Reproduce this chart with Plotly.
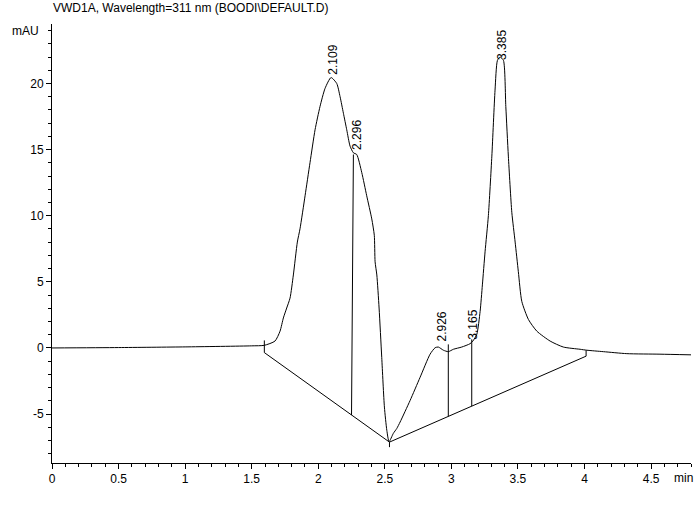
import plotly.graph_objects as go

# ---- data ----
time_min = [0.0, 0.5, 1.0, 1.5, 1.595, 1.675, 1.713, 1.738, 1.763, 1.788, 1.813, 1.843,
            1.863, 1.901, 1.938, 1.976, 2.013, 2.051, 2.096, 2.139, 2.164, 2.189, 2.214,
            2.239, 2.264, 2.289, 2.327, 2.364, 2.402, 2.421, 2.427, 2.440, 2.457, 2.477,
            2.497, 2.515, 2.532, 2.564, 2.590, 2.615, 2.690, 2.765, 2.840, 2.878, 2.902,
            2.940, 2.977, 3.015, 3.078, 3.140, 3.161, 3.191, 3.216, 3.233, 3.253, 3.278,
            3.304, 3.328, 3.346, 3.366, 3.391, 3.409, 3.428, 3.454, 3.479, 3.503, 3.529,
            3.579, 3.642, 3.742, 3.841, 3.967, 4.017, 4.142, 4.318, 4.567, 4.80]
signal_mau = [0.0, 0.03, 0.08, 0.16, 0.20, 0.52, 1.27, 2.27, 3.02, 3.77, 5.52, 8.01,
              9.01, 11.51, 14.01, 16.50, 18.25, 19.63, 20.45, 20.0, 19.0, 17.75, 16.50,
              15.26, 14.76, 14.63, 13.26, 11.51, 9.76, 8.52, 6.52, 5.52, 3.02, -0.73,
              -4.47, -6.22, -7.09, -6.46, -6.09, -5.60, -3.97, -2.22, -0.47, 0.02, 0.07,
              -0.17, -0.28, -0.10, 0.07, 0.32, 0.52, 1.03, 2.77, 4.77, 7.27, 10.01,
              14.51, 19.50, 21.75, 22.0, 21.75, 18.25, 14.51, 10.26, 8.01, 5.77, 3.52,
              2.15, 1.27, 0.52, 0.07, -0.10, -0.17, -0.28, -0.43, -0.47, -0.52]

# integration baseline (start, valley, end)
baseline_t = [1.595, 2.535, 4.012]
baseline_y = [-0.35, -7.12, -0.62]

# drop lines / baseline markers: (t_bottom, y_bottom, t_top, y_top)
drop_t0 = [1.595, 2.250, 2.535, 2.977, 3.153, 4.012]
drop_y0 = [-0.35, -5.07, -7.50, -5.17, -4.40, -0.62]
drop_t1 = [1.595, 2.264, 2.535, 2.977, 3.153, 4.012]
drop_y1 = [0.57, 14.63, -7.12, 0.27, 0.65, -0.17]

# peak retention time labels
peak_labels = ["2.109", "2.296", "2.926", "3.165", "3.385"]
peak_rt = [2.109, 2.296, 2.926, 3.165, 3.385]
peak_height = [20.5, 14.8, 0.3, 0.5, 21.6]

x_ticks = [0, 0.5, 1, 1.5, 2, 2.5, 3, 3.5, 4, 4.5]
x_ticktext = ["0", "0.5", "1", "1.5", "2", "2.5", "3", "3.5", "4", "4.5"]
y_ticks = [-5, 0, 5, 10, 15, 20]
y_ticktext = ["-5", "0", "5", "10", "15", "20"]

title_text = "VWD1A, Wavelength=311 nm (BOODI\\DEFAULT.D)"

FONT = "Liberation Sans, Arial, sans-serif"
FS = 12

fig = go.Figure()
fig.add_trace(go.Scatter(x=time_min, y=signal_mau, mode="lines",
                         line=dict(color="black", width=1, shape="spline", smoothing=0.6),
                         hoverinfo="skip", showlegend=False))
fig.add_trace(go.Scatter(x=baseline_t, y=baseline_y, mode="lines",
                         line=dict(color="black", width=1), hoverinfo="skip", showlegend=False))
dx, dy = [], []
for a, b, c, d in zip(drop_t0, drop_y0, drop_t1, drop_y1):
    dx += [a, c, None]
    dy += [b, d, None]
fig.add_trace(go.Scatter(x=dx, y=dy, mode="lines",
                         line=dict(color="black", width=1), hoverinfo="skip", showlegend=False))

for lab, t, h in zip(peak_labels, peak_rt, peak_height):
    fig.add_annotation(x=t, y=h, text=lab, textangle=-90, showarrow=False,
                       xanchor="center", yanchor="bottom", yshift=0,
                       font=dict(family=FONT, size=FS, color="black"))

fig.add_annotation(xref="paper", yref="paper", x=-0.041, y=0.984, text="mAU",
                   showarrow=False, xanchor="center", yanchor="middle",
                   font=dict(family=FONT, size=FS, color="black"))
fig.add_annotation(xref="paper", yref="paper", x=0.9875, y=-0.034, text="min",
                   showarrow=False, xanchor="center", yanchor="middle",
                   font=dict(family=FONT, size=FS, color="black"))

fig.update_layout(
    width=700, height=506,
    margin=dict(l=52, r=9, t=24, b=43),
    paper_bgcolor="white", plot_bgcolor="white",
    font=dict(family=FONT, size=FS, color="black"),
    title=dict(text=title_text, x=53 / 700, xanchor="left", xref="container",
               y=1 - 8 / 506, yanchor="middle", yref="container",
               font=dict(family=FONT, size=FS, color="black")),
    xaxis=dict(range=[0, 4.8], showgrid=False, zeroline=False, automargin=False,
               showline=True, linecolor="black", linewidth=1,
               tickmode="array", tickvals=x_ticks, ticktext=x_ticktext,
               ticks="outside", ticklen=5, tickcolor="black",
               minor=dict(dtick=0.1, ticks="outside", ticklen=3, tickcolor="black"),
               tickfont=dict(family=FONT, size=FS, color="black")),
    yaxis=dict(range=[-8.7, 24.5], showgrid=False, zeroline=False, automargin=False,
               showline=True, linecolor="black", linewidth=1,
               tickmode="array", tickvals=y_ticks, ticktext=y_ticktext,
               ticks="outside", ticklen=5, tickcolor="black",
               minor=dict(dtick=1, ticks="outside", ticklen=3, tickcolor="black"),
               tickfont=dict(family=FONT, size=FS, color="black")),
)

fig.write_html("out.html", config={"displayModeBar": False},
               post_script="document.body.style.margin='0px';")
